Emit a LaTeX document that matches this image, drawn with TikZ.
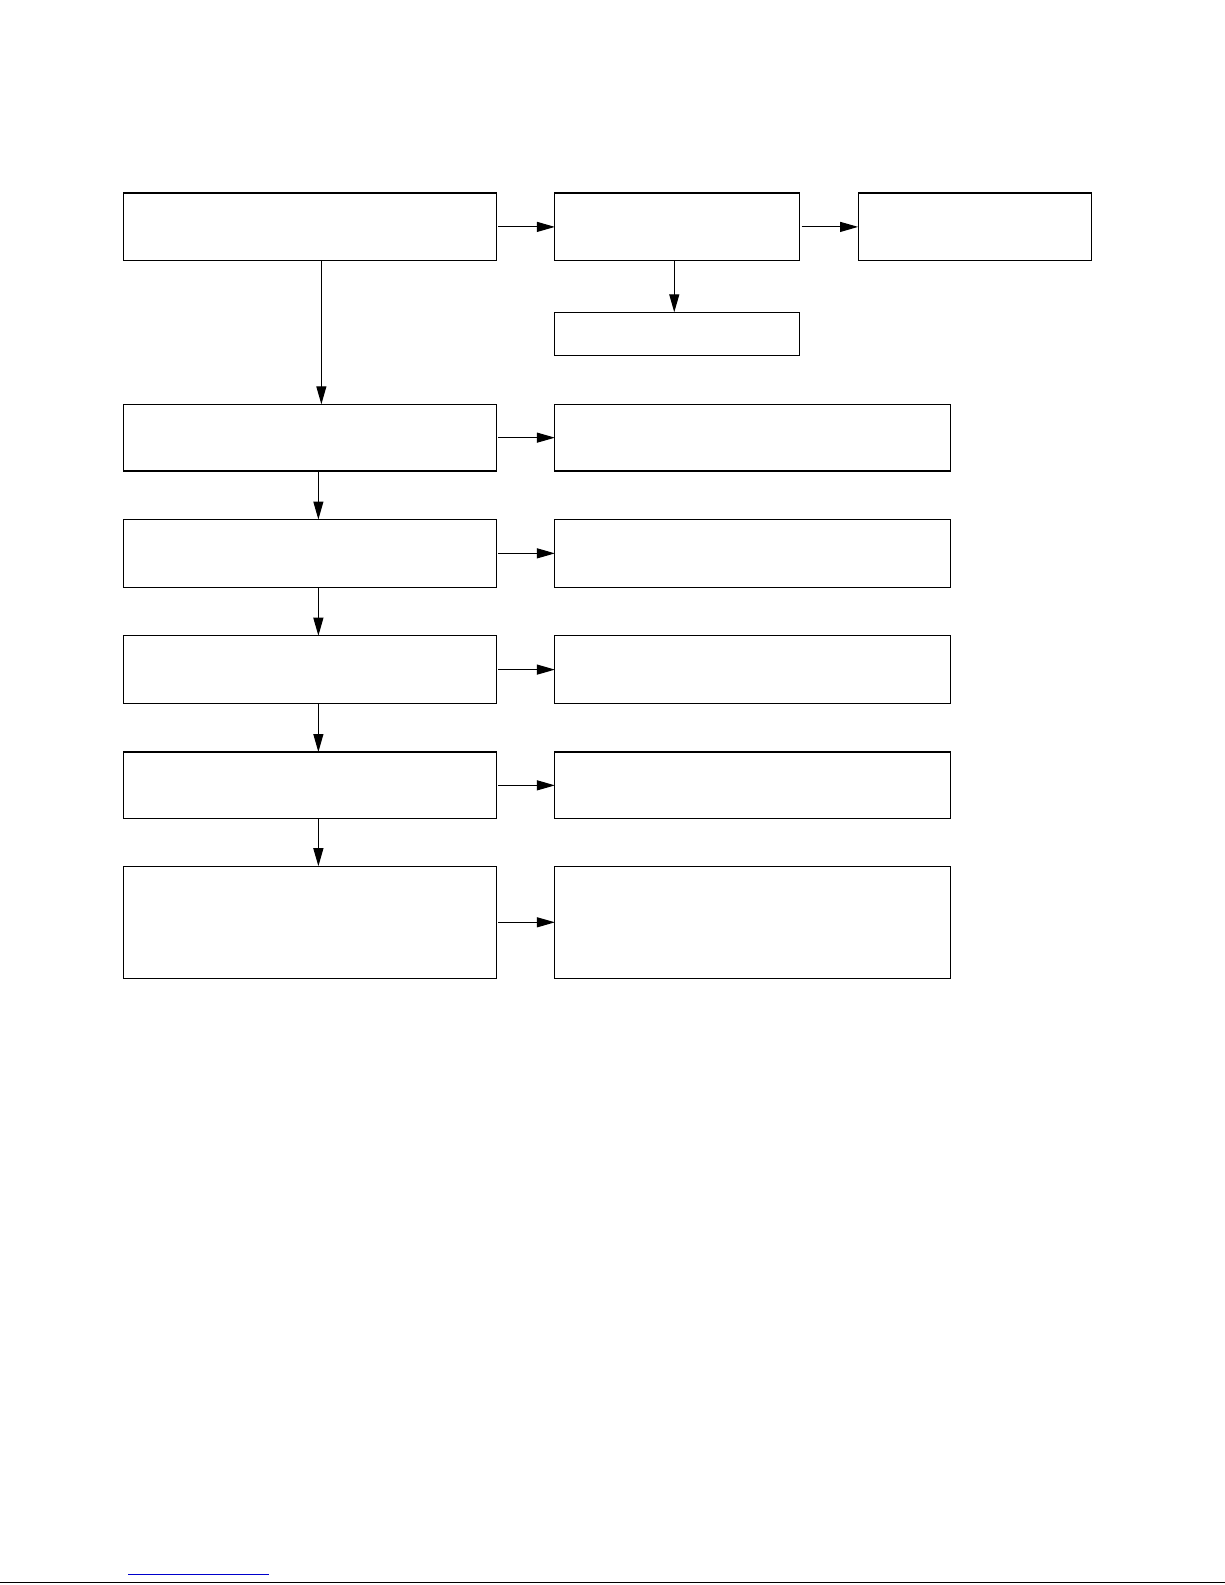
\documentclass[tikz,border=0pt]{standalone}
\usetikzlibrary{calc,arrows.meta}

\definecolor{linkblue}{RGB}{0,0,204}
\tikzset{
    box/.style={draw, inner sep=0pt, outer sep=0pt, anchor=north west},
    leftbox/.style={box, minimum width=186.5pt},
    rightbox/.style={box, minimum width=197.6pt}
}

\begin{document}
\begin{tikzpicture}[>={Triangle[length=9pt,width=5pt]}, x=0.5pt, y=-0.5pt, line width=0.55pt]
            \useasboundingbox (0,0) rectangle (1225,1585);

            % top row
            \node[leftbox, minimum height=33.9pt] (a) at (123.3,193) {};
            \node[box, minimum width=122.3pt, minimum height=33.9pt] (b) at (554.9,193) {};
            \node[box, minimum width=116.75pt, minimum height=33.9pt] (c) at (858.1,193) {};
            \node[box, minimum width=122.3pt, minimum height=21.75pt] (d) at (554.9,312.3) {};

            % the two columns
            \foreach \r/\ytop/\hgt in {1/404.3/33.35pt,2/519.5/33.85pt,3/635.7/33.9pt,4/752/33.35pt,5/866.2/56.1pt}
                {\node[leftbox, minimum height=\hgt] (l\r) at (123.3,\ytop) {};
                 \node[rightbox, minimum height=\hgt] (r\r) at (554.9,\ytop) {};}

            \coordinate (a1) at ($(a.south west)!0.531!(a.south east)$);
            \coordinate (b1) at ($(b.south west)!0.488!(b.south east)$);

            \path
            (a)         edge[->,shorten <=1pt]  (b)
            (b)         edge[->,shorten <=1pt]  (c)
            (b1)        edge[->]                (b1 |- d.north)
            (a1)        edge[->]                (a1 |- l1.north);

            \foreach \r/\s in {1/2,2/3,3/4,4/5}
                {\path ($(l\r.south west)!0.523!(l\r.south east)$) coordinate (t\r)
                    (t\r) edge[->] (t\r |- l\s.north);}
            \foreach \r in {1,...,5}
                {\path (l\r) edge[->,shorten <=1pt] (r\r);}

            % page foot
            \draw[linkblue, line width=0.6pt] (128.4,1574.7) -- (268.8,1574.7);
            \draw[line width=0.8pt] (0,1582.6) -- (1225,1582.6);
        \end{tikzpicture}
\end{document}
